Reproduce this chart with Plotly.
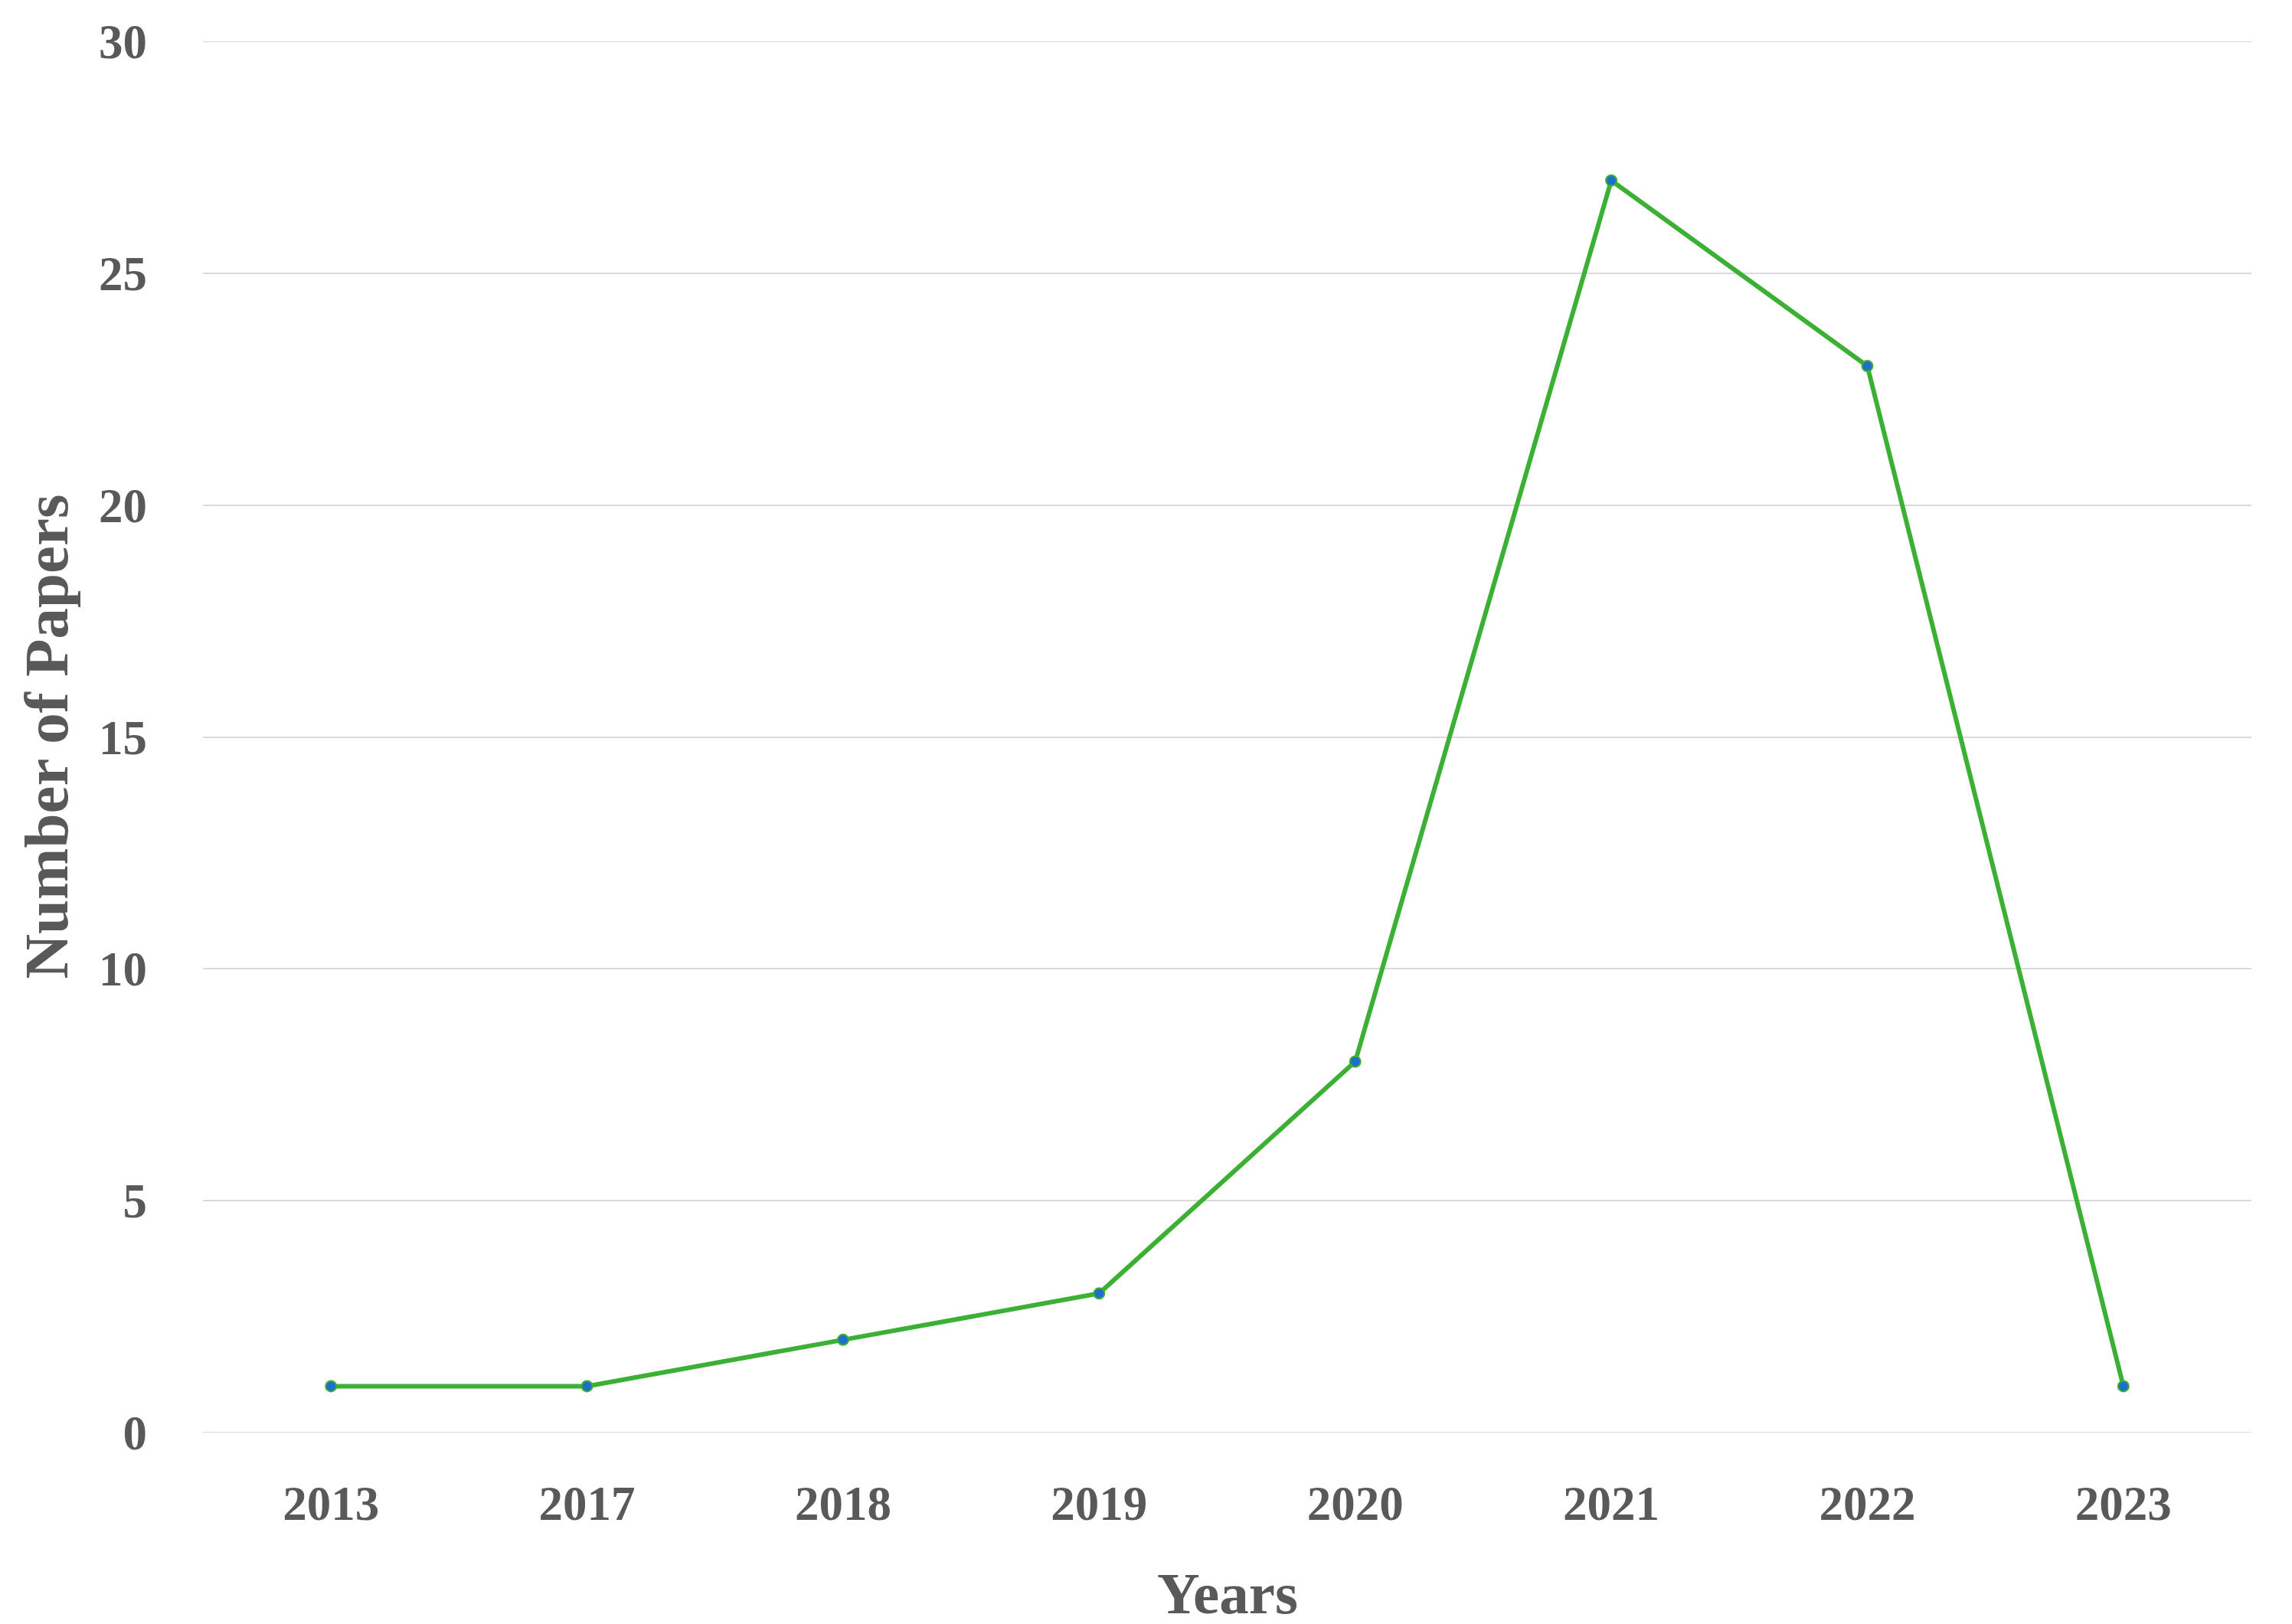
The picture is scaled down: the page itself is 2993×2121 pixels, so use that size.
#!/usr/bin/env python
# coding: utf-8

"""
Line plot of the number of papers per year.
"""

import plotly.graph_objects as go

# Data
years = ['2013', '2017', '2018', '2019', '2020', '2021', '2022', '2023']
papers = [1, 1, 2, 3, 8, 27, 23, 1]
y_ticks = [0, 5, 10, 15, 20, 25, 30]

font_family = 'Liberation Serif'
text_color = '#595959'
grid_color = '#d9d9d9'

fig = go.Figure()
fig.add_trace(go.Scatter(
    x=years, y=papers,
    mode='lines+markers',
    line=dict(color='#3cb034', width=6),
    marker=dict(color='#1f6fc8', size=14, line=dict(color='#3cb034', width=2)),
    showlegend=False,
))

fig.update_layout(
    width=2993, height=2121,
    margin=dict(l=257, r=61, t=32, b=258),
    paper_bgcolor='white', plot_bgcolor='white',
    font=dict(family=font_family, color=text_color),
)
fig.update_xaxes(
    type='category', range=[-0.5, 7.5],
    showgrid=False, showline=False, zeroline=False,
    tickfont=dict(size=63, family=font_family, color=text_color, weight='bold'),
    ticklabelstandoff=50,
)
fig.update_yaxes(
    range=[0, 30], tickvals=y_ticks,
    showgrid=True, gridcolor=grid_color, gridwidth=2,
    zeroline=False, showline=False,
    tickfont=dict(size=63, family=font_family, color=text_color, weight='bold'),
    ticklabelstandoff=72, ticklabeloverflow='allow',
)
# grid lines at both ends of the value range
for v in (y_ticks[0], y_ticks[-1]):
    fig.add_hline(y=v, line=dict(color=grid_color, width=2), layer='below')

# axis titles placed as annotations so they sit where the original has them
title_font = dict(size=77, family=font_family, color=text_color, weight='bold')
fig.add_annotation(text='Years', xref='paper', yref='paper', x=0.5, y=0,
                   xanchor='center', yanchor='bottom', yshift=-255,
                   showarrow=False, font=title_font)
fig.add_annotation(text='Number of Papers', xref='paper', yref='paper', x=0, y=0.5,
                   xanchor='center', yanchor='middle', xshift=-205, textangle=-90,
                   showarrow=False, font=dict(title_font, size=81))

fig.write_html('out.html')
